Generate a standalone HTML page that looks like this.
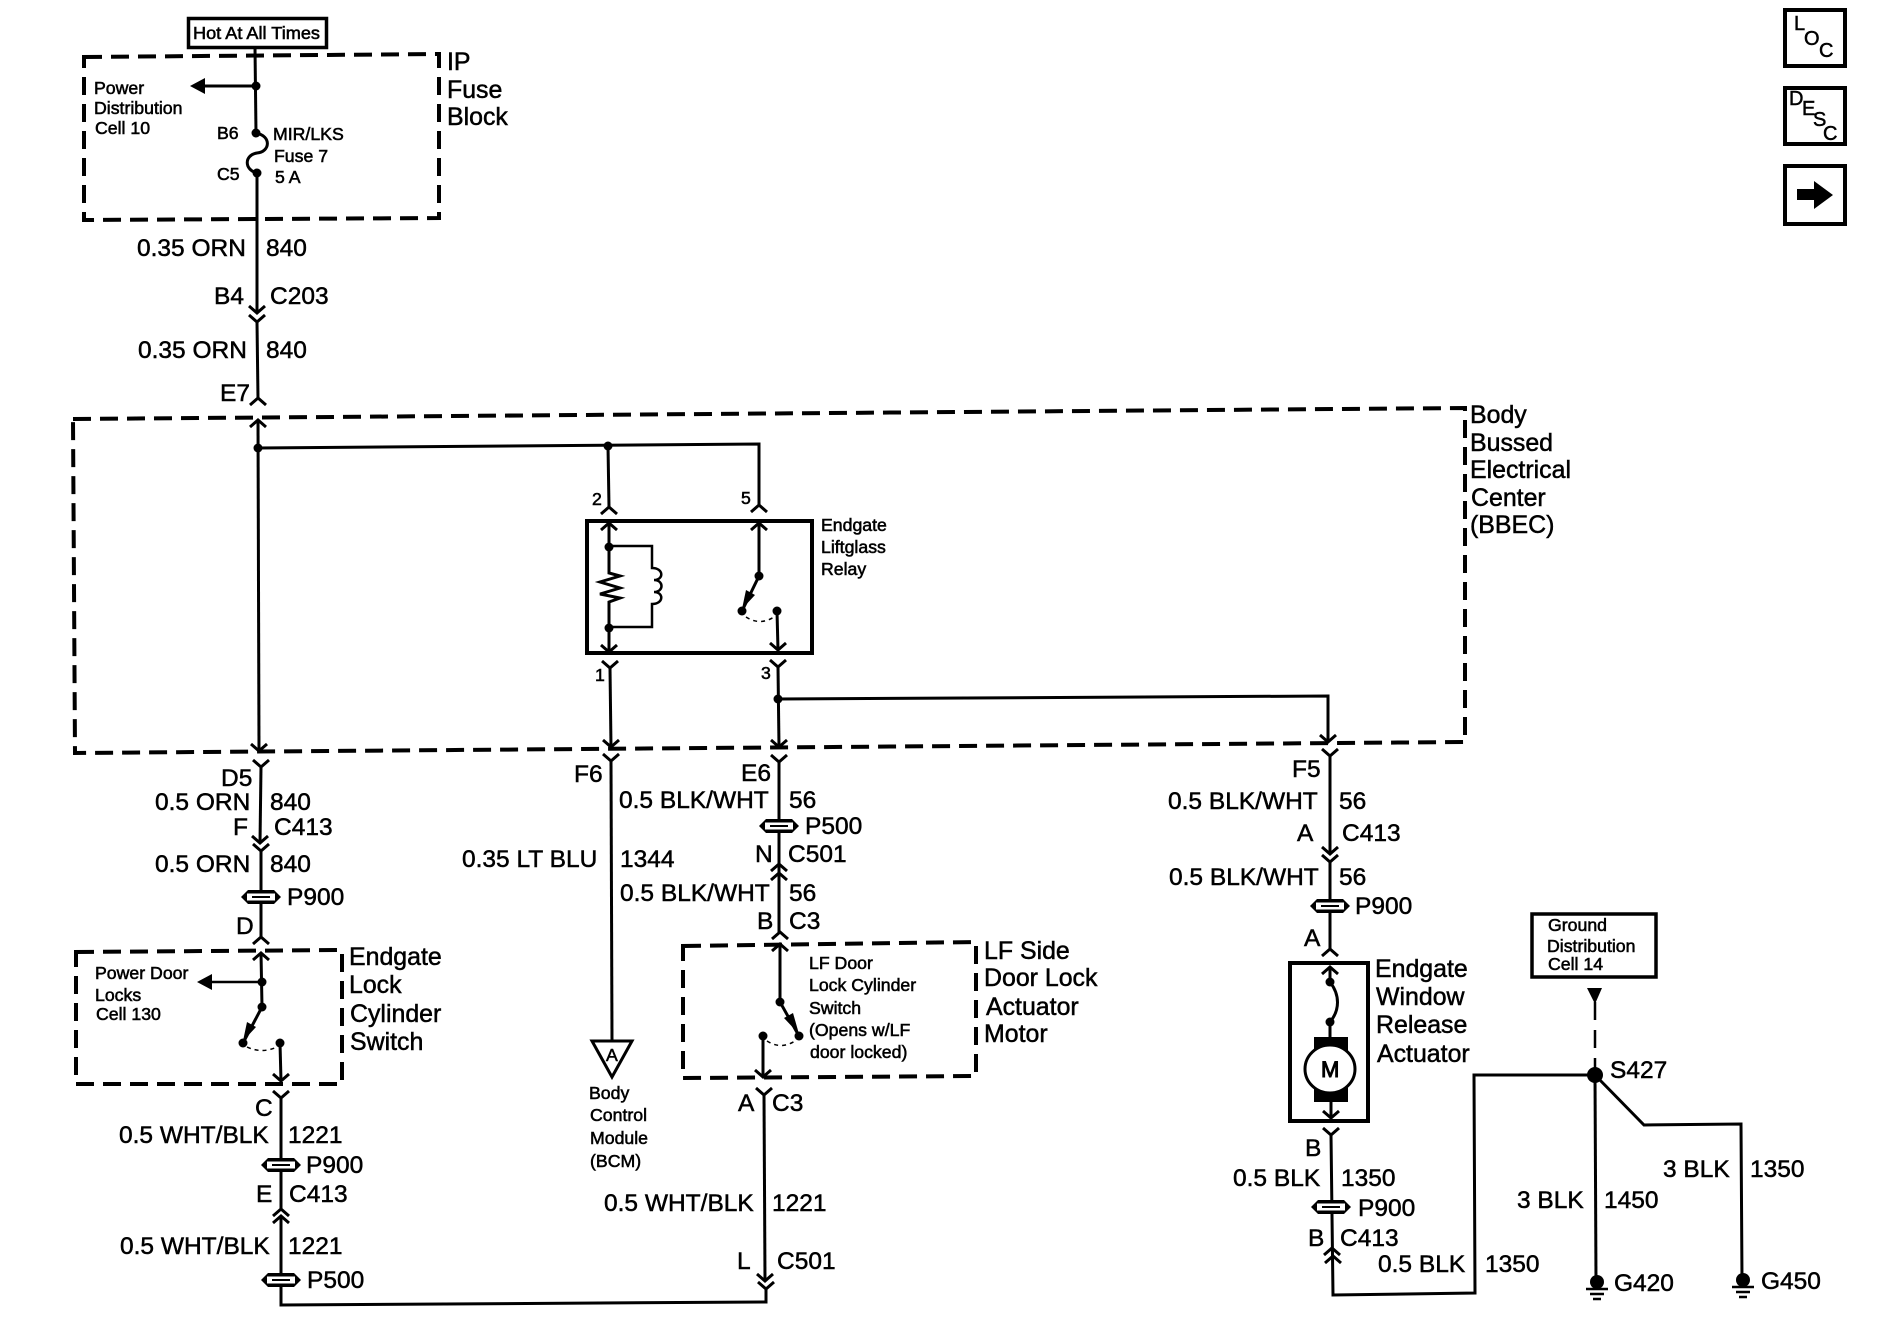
<!DOCTYPE html>
<html><head><meta charset="utf-8"><style>
html,body{margin:0;padding:0;background:#fff}
svg{display:block}
text{font-family:"Liberation Sans",sans-serif;fill:#000;stroke:#000;stroke-width:.5}
.l{font-size:24.5px}.b{font-size:24.9px}.s{font-size:17.7px;stroke-width:.55}.i{font-size:20px}
.w{fill:none;stroke:#000;stroke-width:3}
.t{fill:none;stroke:#000;stroke-width:2.5}
.d{fill:none;stroke:#000;stroke-width:4;stroke-dasharray:18 9}
.x{fill:none;stroke:#000;stroke-width:4}
</style></head><body>
<svg xmlns="http://www.w3.org/2000/svg" width="1880" height="1344" viewBox="0 0 1880 1344">
<defs>
<path id="v" d="M-8,-7L0,0L8,-7" fill="none" stroke="#000" stroke-width="3"/>
<path id="u" d="M-8,7L0,0L8,7" fill="none" stroke="#000" stroke-width="3"/>
<g id="c"><path d="M-13,-7H13L20,0L13,7H-13L-20,0Z" fill="#000"/><path d="M-14,-3.500H14V3.500H-14Z" fill="#fff"/><path d="M-9,0H9" stroke="#000" stroke-width="2"/></g>
<circle id="n" r="4.500" fill="#000"/>
</defs>

<!-- Hot at all times & IP fuse block -->
<rect x="188.500" y="18.500" width="138" height="29" fill="none" stroke="#000" stroke-width="3.500"/>
<text class="s" x="193" y="39" textLength="127" lengthAdjust="spacingAndGlyphs">Hot At All Times</text>
<path class="d" d="M84,57L439,54V218L84,220Z"/>
<path class="w" d="M255,48L256,133"/>
<path class="w" d="M256,86H205"/><path d="M190,86L205,78V94Z" fill="#000"/>
<use href="#n" x="256" y="86"/><use href="#n" x="256" y="133"/><use href="#n" x="257" y="173"/>
<path class="w" d="M256,133C272,136 270,152 257,153C244,155 244,170 257,173"/>
<path class="w" d="M257,173L257,313"/>
<use href="#v" x="257" y="313"/><use href="#v" x="257" y="322"/>
<path class="w" d="M257,322L258,399"/>
<use href="#u" x="258" y="398"/><use href="#u" x="258" y="420"/>
<text class="s" x="94" y="94">Power</text>
<text class="s" x="94" y="114">Distribution</text>
<text class="s" x="95" y="134">Cell 10</text>
<text class="s" x="217" y="139">B6</text>
<text class="s" x="217" y="180">C5</text>
<text class="s" x="273" y="140">MIR/LKS</text>
<text class="s" x="274" y="162">Fuse 7</text>
<text class="s" x="275" y="183">5 A</text>
<text class="b" x="447" y="70">IP</text>
<text class="b" x="447" y="98">Fuse</text>
<text class="b" x="447" y="125">Block</text>
<text class="l" x="137" y="256">0.35 ORN</text><text class="l" x="266" y="256">840</text>
<text class="l" x="214" y="304">B4</text><text class="l" x="270" y="304">C203</text>
<text class="l" x="138" y="358">0.35 ORN</text><text class="l" x="266" y="358">840</text>
<text class="l" x="220" y="401">E7</text>

<!-- BBEC -->
<path class="d" d="M73,419L1465,408V742L75,753Z"/>
<path class="w" d="M258,420L259,751"/>
<use href="#v" x="259" y="751"/>
<use href="#n" x="258" y="448"/>
<path class="w" d="M258,448L759,444V505"/>
<use href="#n" x="608" y="446"/>
<path class="w" d="M608,446L609,507"/>
<use href="#u" x="609" y="507"/><use href="#u" x="759" y="505"/>
<text class="s" x="592" y="505">2</text><text class="s" x="741" y="504">5</text>
<rect x="587" y="521" width="225" height="132" fill="none" stroke="#000" stroke-width="4"/>
<use href="#u" x="609" y="523"/><use href="#u" x="759" y="523"/>
<path class="w" d="M609,523V573L620,576L600,582L620,588L600,594L620,598L609,602V652"/>
<use href="#v" x="609" y="652"/>
<use href="#n" x="609" y="547"/><use href="#n" x="609" y="628"/>
<path class="t" d="M609,546H652V568C664,568 664,580 654,580C664,580 664,592 654,592C664,592 664,604 652,604V627H609"/>
<path class="w" d="M759,523V576L742,611"/>
<path d="M742,609L746,590L755,595Z" fill="#000"/>
<use href="#n" x="759" y="576"/><use href="#n" x="742" y="611"/><use href="#n" x="777" y="611"/>
<path class="w" d="M777,611L778,650"/><use href="#v" x="778" y="650"/>
<path d="M746,617Q760,626 774,617" fill="none" stroke="#000" stroke-width="1.500" stroke-dasharray="4 4"/>
<text class="s" x="821" y="531">Endgate</text>
<text class="s" x="821" y="553">Liftglass</text>
<text class="s" x="821" y="575">Relay</text>
<use href="#v" x="610" y="668"/><use href="#v" x="778" y="667"/>
<path class="w" d="M610,668L611,747"/><use href="#v" x="611" y="747"/>
<path class="w" d="M778,667L779,747"/><use href="#v" x="779" y="747"/>
<use href="#n" x="778" y="699"/>
<path class="w" d="M778,699L1328,696V742"/><use href="#v" x="1328" y="742"/>
<text class="s" x="595" y="681">1</text><text class="s" x="761" y="679">3</text>
<text class="b" x="1470" y="423">Body</text>
<text class="b" x="1470" y="451">Bussed</text>
<text class="b" x="1470" y="478">Electrical</text>
<text class="b" x="1471" y="506">Center</text>
<text class="b" x="1470" y="533">(BBEC)</text>

<!-- Left column -->
<use href="#v" x="261" y="767"/>
<path class="w" d="M261,767L260,843"/><use href="#v" x="260" y="843"/>
<use href="#v" x="261" y="851"/>
<path class="w" d="M261,851V937"/>
<use href="#c" x="261" y="897"/>
<use href="#u" x="261" y="937"/>
<text class="l" x="221" y="786">D5</text>
<text class="l" x="155" y="810">0.5 ORN</text><text class="l" x="270" y="810">840</text>
<text class="l" x="233" y="835">F</text><text class="l" x="274" y="835">C413</text>
<text class="l" x="155" y="872">0.5 ORN</text><text class="l" x="270" y="872">840</text>
<text class="l" x="287" y="905">P900</text>
<text class="l" x="236" y="934">D</text>
<path class="d" d="M76,952L342,950V1084L76,1084Z"/>
<use href="#u" x="261" y="953"/>
<path class="w" d="M261,953L262,1007L243,1043"/>
<path d="M243,1041L247,1022L256,1027Z" fill="#000"/>
<use href="#n" x="262" y="982"/><use href="#n" x="262" y="1007"/><use href="#n" x="243" y="1043"/><use href="#n" x="280" y="1043"/>
<path class="t" d="M262,982H212"/><path d="M197,982L212,974V990Z" fill="#000"/>
<path class="w" d="M280,1043L281,1081"/><use href="#v" x="281" y="1081"/>
<path d="M247,1047Q262,1054 277,1047" fill="none" stroke="#000" stroke-width="1.500" stroke-dasharray="4 4"/>
<text class="s" x="95" y="979">Power Door</text>
<text class="s" x="95" y="1001">Locks</text>
<text class="s" x="96" y="1020">Cell 130</text>
<text class="b" x="349" y="965">Endgate</text>
<text class="b" x="349" y="993">Lock</text>
<text class="b" x="350" y="1022">Cylinder</text>
<text class="b" x="350" y="1050">Switch</text>
<use href="#v" x="281" y="1098"/>
<path class="w" d="M281,1098V1209"/>
<use href="#c" x="281" y="1165"/>
<use href="#u" x="281" y="1209"/><use href="#u" x="281" y="1216"/>
<path class="w" d="M281,1216V1305L766,1302V1289"/>
<use href="#c" x="281" y="1280"/>
<text class="l" x="255" y="1116">C</text>
<text class="l" x="119" y="1143">0.5 WHT/BLK</text><text class="l" x="288" y="1143">1221</text>
<text class="l" x="306" y="1173">P900</text>
<text class="l" x="256" y="1202">E</text><text class="l" x="289" y="1202">C413</text>
<text class="l" x="120" y="1254">0.5 WHT/BLK</text><text class="l" x="288" y="1254">1221</text>
<text class="l" x="307" y="1288">P500</text>

<!-- BCM column -->
<use href="#v" x="611" y="761"/>
<path class="w" d="M611,761L612,1041"/>
<path d="M592,1041H632L612,1077Z" fill="#fff" stroke="#000" stroke-width="3"/>
<text class="s" x="606" y="1061">A</text>
<text class="l" x="574" y="782">F6</text>
<text class="l" x="462" y="867">0.35 LT BLU</text><text class="l" x="620" y="867">1344</text>
<text class="s" x="589" y="1099">Body</text>
<text class="s" x="590" y="1121">Control</text>
<text class="s" x="590" y="1144">Module</text>
<text class="s" x="590" y="1167">(BCM)</text>

<!-- E6 column -->
<use href="#v" x="779" y="762"/>
<path class="w" d="M779,762V932"/>
<use href="#c" x="779" y="826"/>
<use href="#u" x="779" y="864"/><use href="#u" x="779" y="873"/><use href="#u" x="780" y="932"/>
<text class="l" x="741" y="781">E6</text>
<text class="l" x="619" y="808">0.5 BLK/WHT</text><text class="l" x="789" y="808">56</text>
<text class="l" x="805" y="834">P500</text>
<text class="l" x="755" y="862">N</text><text class="l" x="788" y="862">C501</text>
<text class="l" x="620" y="901">0.5 BLK/WHT</text><text class="l" x="789" y="901">56</text>
<text class="l" x="757" y="929">B</text><text class="l" x="789" y="929">C3</text>
<path class="d" d="M683,946L976,942V1076L683,1078Z"/>
<use href="#u" x="780" y="944"/>
<path class="w" d="M780,944V1002L799,1036"/>
<path d="M799,1034L784,1018L793,1013Z" fill="#000"/>
<use href="#n" x="780" y="1002"/><use href="#n" x="799" y="1036"/><use href="#n" x="763" y="1036"/>
<path class="w" d="M763,1036V1077"/><use href="#v" x="763" y="1077"/>
<path d="M767,1041Q781,1050 795,1041" fill="none" stroke="#000" stroke-width="1.500" stroke-dasharray="4 4"/>
<text class="s" x="809" y="969">LF Door</text>
<text class="s" x="809" y="991">Lock Cylinder</text>
<text class="s" x="809" y="1014">Switch</text>
<text class="s" x="809" y="1036">(Opens w/LF</text>
<text class="s" x="810" y="1058">door locked)</text>
<text class="b" x="984" y="959">LF Side</text>
<text class="b" x="984" y="986">Door Lock</text>
<text class="b" x="986" y="1015">Actuator</text>
<text class="b" x="984" y="1042">Motor</text>
<use href="#v" x="764" y="1095"/>
<path class="w" d="M764,1095L765,1281"/><use href="#v" x="765" y="1281"/><use href="#v" x="766" y="1289"/>
<text class="l" x="738" y="1111">A</text><text class="l" x="772" y="1111">C3</text>
<text class="l" x="604" y="1211">0.5 WHT/BLK</text><text class="l" x="772" y="1211">1221</text>
<text class="l" x="737" y="1269">L</text><text class="l" x="777" y="1269">C501</text>

<!-- Right column -->
<use href="#v" x="1330" y="756"/>
<path class="w" d="M1330,756V854"/><use href="#v" x="1330" y="854"/><use href="#v" x="1330" y="862"/>
<path class="w" d="M1330,862V949"/>
<use href="#c" x="1330" y="906"/>
<use href="#u" x="1330" y="949"/>
<text class="l" x="1292" y="777">F5</text>
<text class="l" x="1168" y="809">0.5 BLK/WHT</text><text class="l" x="1339" y="809">56</text>
<text class="l" x="1297" y="841">A</text><text class="l" x="1342" y="841">C413</text>
<text class="l" x="1169" y="885">0.5 BLK/WHT</text><text class="l" x="1339" y="885">56</text>
<text class="l" x="1355" y="914">P900</text>
<text class="l" x="1304" y="946">A</text>
<rect x="1290" y="963" width="78" height="158" fill="none" stroke="#000" stroke-width="4"/>
<use href="#u" x="1330" y="967"/>
<path class="w" d="M1330,967V982C1340,995 1340,1010 1330,1022V1037"/>
<use href="#n" x="1330" y="982"/><use href="#n" x="1330" y="1022"/>
<rect x="1314" y="1037" width="34" height="65" fill="#000"/>
<ellipse cx="1330" cy="1069" rx="25" ry="24" fill="#fff" stroke="#000" stroke-width="3"/>
<text x="1321" y="1077" style="font-size:22px;stroke-width:1">M</text>
<path class="w" d="M1331,1102V1118"/><use href="#v" x="1331" y="1118"/>
<use href="#v" x="1331" y="1135"/>
<path class="w" d="M1331,1135L1333,1295L1475,1293L1474,1075H1596"/>
<use href="#c" x="1331" y="1207"/>
<use href="#u" x="1332" y="1248"/><use href="#u" x="1333" y="1256"/>
<text class="b" x="1375" y="977">Endgate</text>
<text class="b" x="1376" y="1005">Window</text>
<text class="b" x="1376" y="1033">Release</text>
<text class="b" x="1377" y="1062">Actuator</text>
<text class="l" x="1305" y="1156">B</text>
<text class="l" x="1233" y="1186">0.5 BLK</text><text class="l" x="1341" y="1186">1350</text>
<text class="l" x="1358" y="1216">P900</text>
<text class="l" x="1308" y="1246">B</text><text class="l" x="1340" y="1246">C413</text>
<text class="l" x="1378" y="1272">0.5 BLK</text><text class="l" x="1485" y="1272">1350</text>

<!-- Ground -->
<rect x="1532" y="914" width="124" height="63" fill="none" stroke="#000" stroke-width="3.500"/>
<text class="s" x="1548" y="931">Ground</text>
<text class="s" x="1547" y="952">Distribution</text>
<text class="s" x="1548" y="970">Cell 14</text>
<path d="M1587,988H1602L1595,1004Z" fill="#000"/>
<path d="M1595,1002V1075" fill="none" stroke="#000" stroke-width="2.500" stroke-dasharray="18 10"/>
<circle cx="1595" cy="1075" r="8" fill="#000"/>
<text class="l" x="1610" y="1078">S427</text>
<path class="w" d="M1595,1075L1596,1282"/>
<path class="w" d="M1595,1075L1644,1125L1741,1124L1742,1280"/>
<circle cx="1597" cy="1282" r="7" fill="#000"/><circle cx="1743" cy="1280" r="7" fill="#000"/>
<path class="t" d="M1586,1289H1608M1590,1294H1604M1593,1299H1601"/>
<path class="t" d="M1732,1287H1754M1736,1292H1750M1739,1297H1747"/>
<text class="l" x="1614" y="1291">G420</text>
<text class="l" x="1761" y="1289">G450</text>
<text class="l" x="1663" y="1177">3 BLK</text><text class="l" x="1750" y="1177">1350</text>
<text class="l" x="1517" y="1208">3 BLK</text><text class="l" x="1604" y="1208">1450</text>

<!-- Icons -->
<rect x="1785" y="10" width="60" height="56" fill="none" stroke="#000" stroke-width="4"/>
<text class="i" x="1794" y="30">L</text><text class="i" x="1804" y="45">O</text><text class="i" x="1819" y="57">C</text>
<rect x="1785" y="88" width="60" height="56" fill="none" stroke="#000" stroke-width="4"/>
<text class="i" x="1789" y="105">D</text><text class="i" x="1802" y="115">E</text><text class="i" x="1813" y="126">S</text><text class="i" x="1823" y="140">C</text>
<rect x="1785" y="166" width="60" height="58" fill="none" stroke="#000" stroke-width="4"/>
<path d="M1797,189H1814V181L1833,195L1814,209V200H1797Z" fill="#000"/>
</svg>
</body></html>
